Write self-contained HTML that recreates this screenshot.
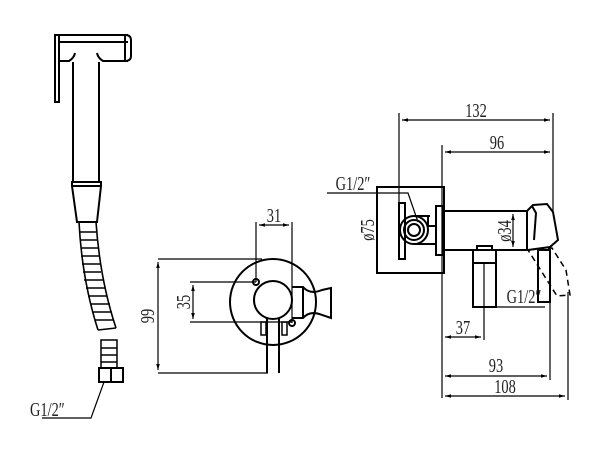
<!DOCTYPE html>
<html><head><meta charset="utf-8"><style>
html,body{margin:0;padding:0;background:#fff;}
svg{display:block;}
text{font-family:"Liberation Serif",serif;font-size:20px;fill:#222;}
</style></head><body>
<svg width="604" height="460" viewBox="0 0 604 460" xmlns="http://www.w3.org/2000/svg">
<defs>
<marker id="a" viewBox="0 0 10 10" refX="10" refY="5" markerWidth="8" markerHeight="6" markerUnits="userSpaceOnUse" orient="auto-start-reverse"><path d="M0,2 L10,5 L0,8z" fill="#000"/></marker>
</defs>
<g fill="none" stroke="#000" stroke-width="2">
<!-- hand shower -->
<path d="M55,35 H59 V102 H55 Z"/>
<path d="M59,35 H128 M59,42 H128 M59,61 H69 Q74,58 75,53 M97,53 Q98,58 103,61 H128"/>
<path d="M125,35 Q131,35 131,40 V56 Q131,61 125,61 Z"/>
<path d="M73,62 V182 M99,62 V182"/>
<path d="M72,182 H101 V186 H72 Z M72,186 L77,222 H97 L101,186"/>
<path d="M79,222 Q82,280 98,330 M96,222 Q100,280 116,328 M98,330 L116,328" stroke-width="1.6"/>
<g stroke-width="1.5">
<path d="M80,232 H96 M80,240 H97 M81,248 H98 M81,256 H99 M82,264 H100 M83,272 H101 M84,280 H103 M86,288 H105 M88,296 H107 M90,304 H110 M93,312 H112 M95,320 H114"/>
<path d="M101,340 H117 V368 H101 Z M101,348 H117 M101,355 H117 M101,362 H117"/>
</g>
<path d="M99,368 H123 V382 H99 Z M111,368 V382"/>
<path d="M104,382 L91,418 H42" stroke-width="1.2"/>
<!-- front view -->
<g stroke-width="1.2">
<path d="M158,259 H262 M158,373 H268"/>
<path d="M158,262 V370" marker-start="url(#a)" marker-end="url(#a)"/>
<path d="M256,282 V222 M292,323 V222"/>
<path d="M259,225 H289" marker-start="url(#a)" marker-end="url(#a)"/>
<path d="M190,282 H256 M190,322 H292"/>
<path d="M193,285 V319" marker-start="url(#a)" marker-end="url(#a)"/>
</g>
<circle cx="273" cy="302" r="43"/>
<circle cx="273" cy="300" r="19"/>
<circle cx="256" cy="282" r="3"/>
<circle cx="292" cy="323" r="3"/>
<path d="M292,287 H303 Q310,295 322,290 L331,288 V318 L322,315 Q310,310 303,318 H292"/>
<path d="M303,287 V318"/>
<path d="M267,318 V373 M279,318 V373"/>
<path d="M261,322 H266 V335 H261 Z M282,322 H287 V335 H282 Z" stroke-width="1.5"/>
<!-- side view dims -->
<g stroke-width="1.2">
<path d="M399,113 V205 M553,113 V212"/>
<path d="M402,120 H550" marker-start="url(#a)" marker-end="url(#a)"/>
<path d="M442,145 V398"/>
<path d="M445,152 H550" marker-start="url(#a)" marker-end="url(#a)"/>
<path d="M327,193 H408 L418,222"/>
<path d="M484,263 V340"/>
<path d="M445,337 H481" marker-start="url(#a)" marker-end="url(#a)"/>
<path d="M473,307 H545"/>
<path d="M550,302 V380"/>
<path d="M445,376 H547" marker-start="url(#a)" marker-end="url(#a)"/>
<path d="M568,292 V400"/>
<path d="M445,396 H565" marker-start="url(#a)" marker-end="url(#a)"/>
<path d="M513,214 V247" marker-start="url(#a)" marker-end="url(#a)"/>
</g>
<rect x="377" y="187" width="67" height="86"/>
<rect x="399" y="203" width="6" height="56"/>
<circle cx="414" cy="230" r="14"/>
<circle cx="414" cy="230" r="10"/>
<circle cx="414" cy="230" r="6"/>
<path d="M414,216 H430 M414,244 H436 M428,216 V226 H436"/>
<rect x="436" y="206" width="7" height="49"/>
<path d="M443,211 H527 V250 H443 Z"/>
<path d="M527,211 L533,205 L547,204 L553,212 L558,240 L550,247 L528,250 M532,206 L536,213 L534,240"/>
<path d="M528,250 L552,248 L566,270 L570,295 L557,296 Z" stroke-dasharray="6,4" stroke-width="1.5"/>
<path d="M473,250 H496 V307 H473 Z M473,263 H496 M477,250 V246 H492 V250"/>
<rect x="538" y="250" width="12" height="52"/>
</g>
<!-- texts -->
<text transform="translate(30 416) scale(0.72 1)">G1/2″</text>
<text transform="translate(154 316) rotate(-90) scale(0.72 1)" text-anchor="middle">99</text>
<text transform="translate(190 302) rotate(-90) scale(0.72 1)" text-anchor="middle">35</text>
<text transform="translate(274 222) scale(0.72 1)" text-anchor="middle">31</text>
<text transform="translate(476 117) scale(0.72 1)" text-anchor="middle">132</text>
<text transform="translate(497 149) scale(0.72 1)" text-anchor="middle">96</text>
<text transform="translate(353 190) scale(0.72 1)" text-anchor="middle">G1/2″</text>
<text transform="translate(374 230) rotate(-90) scale(0.72 1)" text-anchor="middle">ø75</text>
<text transform="translate(511 231) rotate(-90) scale(0.72 1)" text-anchor="middle">ø34</text>
<text transform="translate(524 303) scale(0.72 1)" text-anchor="middle">G1/2″</text>
<text transform="translate(463 334) scale(0.72 1)" text-anchor="middle">37</text>
<text transform="translate(496 372) scale(0.72 1)" text-anchor="middle">93</text>
<text transform="translate(505 393) scale(0.72 1)" text-anchor="middle">108</text>
</svg>
</body></html>
